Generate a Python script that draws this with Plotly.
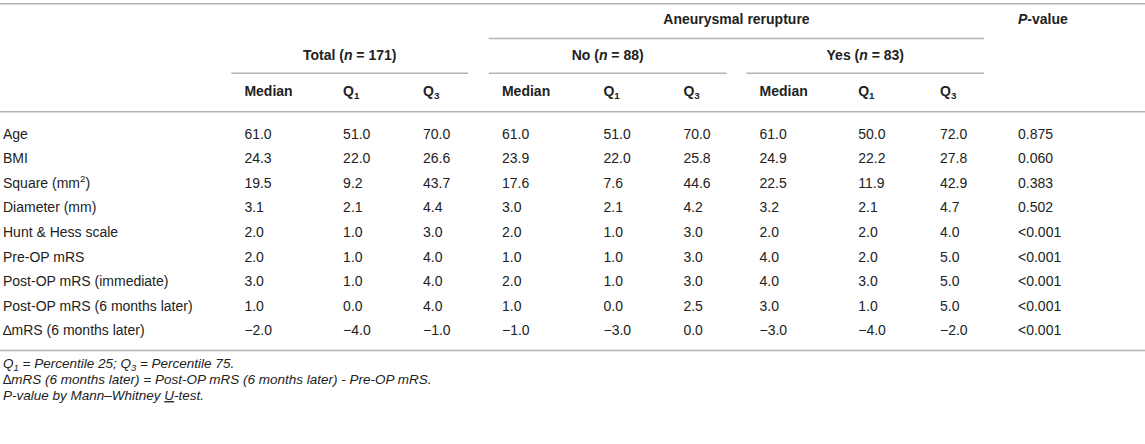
import plotly.graph_objects as go

# table content
row_labels = [
    "Age",
    "BMI",
    "Square (mm<sup>2</sup>)",
    "Diameter (mm)",
    "Hunt &amp; Hess scale",
    "Pre-OP mRS",
    "Post-OP mRS (immediate)",
    "Post-OP mRS (6 months later)",
    "\u2206mRS (6 months later)",
]
total_median = [61.0, 24.3, 19.5, 3.1, 2.0, 2.0, 3.0, 1.0, -2.0]
total_q1 = [51.0, 22.0, 9.2, 2.1, 1.0, 1.0, 1.0, 0.0, -4.0]
total_q3 = [70.0, 26.6, 43.7, 4.4, 3.0, 4.0, 4.0, 4.0, -1.0]
no_median = [61.0, 23.9, 17.6, 3.0, 2.0, 1.0, 2.0, 1.0, -1.0]
no_q1 = [51.0, 22.0, 7.6, 2.1, 1.0, 1.0, 1.0, 0.0, -3.0]
no_q3 = [70.0, 25.8, 44.6, 4.2, 3.0, 3.0, 3.0, 2.5, 0.0]
yes_median = [61.0, 24.9, 22.5, 3.2, 2.0, 4.0, 4.0, 3.0, -3.0]
yes_q1 = [50.0, 22.2, 11.9, 2.1, 2.0, 2.0, 3.0, 1.0, -4.0]
yes_q3 = [72.0, 27.8, 42.9, 4.7, 4.0, 5.0, 5.0, 5.0, -2.0]
p_values = ["0.875", "0.060", "0.383", "0.502", "<0.001", "<0.001", "<0.001", "<0.001", "<0.001"]

group_titles = ["Total (<i>n</i> = 171)", "No (<i>n</i> = 88)", "Yes (<i>n</i> = 83)"]
stat_titles = ["Median", "Q<sub>1</sub>", "Q<sub>3</sub>"]
footnotes = [
    "<i>Q<sub>1</sub> = Percentile 25; Q<sub>3</sub> = Percentile 75.</i>",
    "<i>\u2206mRS (6 months later) = Post-OP mRS (6 months later) - Pre-OP mRS.</i>",
    "<i>P-value by Mann\u2013Whitney <u>U</u>-test.</i>",
]

# layout, measured on the full-size scan and scaled down by S
W, H = 1145, 444
S = 0.94
FONT = "Liberation Sans, Arial, sans-serif"
TXT = "#222222"
RULE = "#b4b4b4"
label_x = 3
col_x = [c * S for c in (260, 365, 450, 534, 642, 727, 808, 913, 1000, 1083)]
group_spans = [(a * S, b * S) for a, b in ((246, 498), (520, 773), (794, 1047))]
row_y0, row_pitch = 144 * S, 26.1 * S
head_y = [22 * S, 60 * S, 98 * S]
rule_y = [4 * S, 41 * S, 78 * S, 119 * S, 373 * S]
foot_y = [388 * S, 405 * S, 422 * S]
BODY, FOOT = 14, 13.5


def fmt(v):
    return f"{v:.1f}".replace("-", "\u2212")


columns = [total_median, total_q1, total_q3, no_median, no_q1, no_q3,
           yes_median, yes_q1, yes_q3]
row_y = [row_y0 + i * row_pitch for i in range(len(row_labels))]

fig = go.Figure()


def add_text(xs, ys, texts, pos="middle right", size=BODY):
    fig.add_trace(go.Scatter(
        x=xs, y=ys, text=texts, mode="text", textposition=pos,
        textfont=dict(family=FONT, size=size, color=TXT),
        hoverinfo="skip", showlegend=False,
    ))


# body
add_text([label_x] * len(row_labels), row_y, row_labels)
for cx, col in zip(col_x, columns):
    add_text([cx] * len(col), row_y, [fmt(v) for v in col])
add_text([col_x[-1]] * len(p_values), row_y, p_values)

# headers
add_text([(group_spans[1][0] + group_spans[2][1]) / 2], [head_y[0]],
         ["<b>Aneurysmal rerupture</b>"], pos="middle center")
add_text([col_x[-1]], [head_y[0]], ["<b><i>P</i>-value</b>"])
add_text([(a + b) / 2 for a, b in group_spans], [head_y[1]] * 3,
         [f"<b>{t}</b>" for t in group_titles], pos="middle center")
add_text(col_x[:9], [head_y[2]] * 9, [f"<b>{t}</b>" for t in stat_titles * 3])

# footnotes
add_text([label_x] * 3, foot_y, footnotes, size=FOOT)

shapes = []


def rule(x0, x1, y, w=1.5):
    shapes.append(dict(type="line", xref="x", yref="y", x0=x0, x1=x1, y0=y, y1=y,
                       line=dict(color=RULE, width=w)))


rule(0, W, rule_y[0])
rule(group_spans[1][0], group_spans[2][1], rule_y[1])
for a, b in group_spans:
    rule(a, b, rule_y[2])
rule(0, W, rule_y[3])
rule(0, W, rule_y[4])

fig.update_layout(
    width=W, height=H,
    margin=dict(l=0, r=0, t=0, b=0),
    paper_bgcolor="white", plot_bgcolor="white",
    shapes=shapes,
    xaxis=dict(range=[0, W], visible=False, fixedrange=True),
    yaxis=dict(range=[H, 0], visible=False, fixedrange=True),
)

# drop the default 8px page margin so the table sits at the window edge
fig.write_html("out.html", config={"displayModeBar": False},
               post_script="document.body.style.margin='0';")
